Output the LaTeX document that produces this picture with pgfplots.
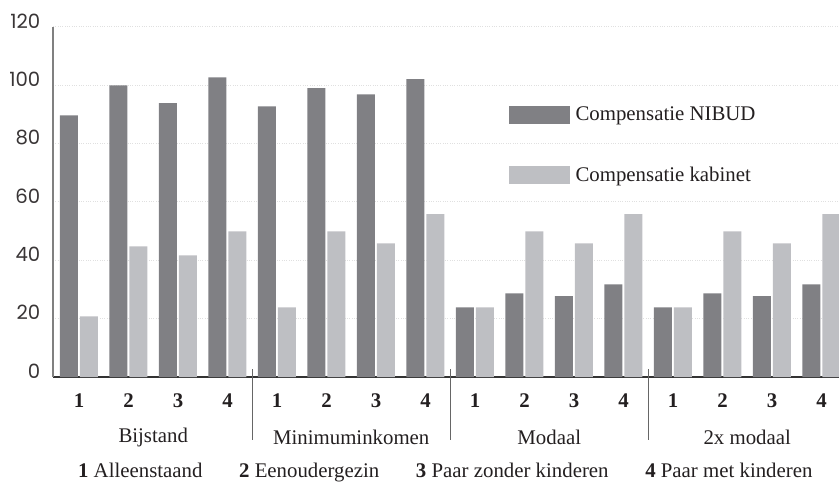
\documentclass[border=0pt]{standalone}
\usepackage{fontspec}
\setmainfont{Liberation Serif}
\newfontfamily\poppins{Poppins}
\usepackage{pgfplots}
\pgfplotsset{compat=1.18}
\definecolor{darkbar}{RGB}{128,128,132}
\definecolor{lightbar}{RGB}{190,191,195}
\definecolor{txt}{RGB}{35,31,32}
\pgfplotstableread{
x  nibud kabinet
0  89.7  20.8
1  100.0 44.8
2  93.9  41.7
3  102.7 49.9
4  92.8  23.9
5  99.0  49.9
6  96.9  45.8
7  102.1 55.8
8  23.9  23.9
9  28.7  49.9
10 27.7  45.8
11 31.8  55.8
12 23.9  23.9
13 28.7  49.9
14 27.7  45.8
15 31.8  55.8
}\datatable
\begin{document}
\fontsize{12pt}{14pt}\selectfont
\begin{tikzpicture}[x=1pt,y=1pt]
\begin{axis}[
  at={(0,0)}, anchor=south west,
  scale only axis, width=471.6pt, height=210pt,
  xmin=-0.525, xmax=15.354, ymin=0, ymax=120,
  clip=false,
  axis x line=bottom, axis y line=left,
  axis line style={-},
  x axis line style={black!80, line width=0.8pt},
  y axis line style={black!50, line width=0.8pt},
  ytick={0,20,...,120},
  xtick={0,...,15},
  xticklabels={1,2,3,4,1,2,3,4,1,2,3,4,1,2,3,4},
  major tick length=0pt,
  ymajorgrids,
  grid style={densely dotted, black!12, line width=0.6pt},
  /pgf/number format/assume math mode=true,
  yticklabel style={font=\poppins\fontsize{11.8pt}{13pt}\selectfont, text=txt!90, xshift=-3.4pt, yshift=3.6pt},
  xticklabel style={font=\bfseries\fontsize{12.5pt}{14pt}\selectfont, text=txt, yshift=-6pt},
  legend style={at={(rel axis cs:0.573,0.800)}, anchor=north west, draw=none, fill=none,
    font=\fontsize{12.5pt}{14pt}\selectfont, text=txt, row sep=19pt,
    nodes={inner sep=3.5pt}},
  legend cell align=left,
]
\addplot[ybar, bar width=10.8pt, bar shift=-6pt, fill=darkbar, draw=none,
  legend image code/.code={\fill[darkbar] (0pt,-5.4pt) rectangle (36.6pt,5.4pt);}]
  table[x=x, y=nibud] {\datatable};
\addlegendentry{Compensatie NIBUD}
\addplot[ybar, bar width=10.8pt, bar shift=6pt, fill=lightbar, draw=none,
  legend image code/.code={\fill[lightbar] (0pt,-5.4pt) rectangle (36.6pt,5.4pt);}]
  table[x=x, y=kabinet] {\datatable};
\addlegendentry{Compensatie kabinet}
\draw[black!60, line width=0.6pt] (axis cs:3.5,2.7) -- (axis cs:3.5,-21.6);
\draw[black!60, line width=0.6pt] (axis cs:7.5,2.7) -- (axis cs:7.5,-21.6);
\draw[black!60, line width=0.6pt] (axis cs:11.5,2.7) -- (axis cs:11.5,-21.6);
\node[text=txt, font=\fontsize{12.5pt}{14pt}\selectfont] at (axis cs:1.5,-20.8) {Bijstand};
\node[text=txt, font=\fontsize{12.5pt}{14pt}\selectfont] at (axis cs:5.5,-20.8) {Minimuminkomen};
\node[text=txt, font=\fontsize{12.5pt}{14pt}\selectfont] at (axis cs:9.5,-20.8) {Modaal};
\node[text=txt, font=\fontsize{12.5pt}{14pt}\selectfont] at (axis cs:13.5,-20.8) {2x modaal};
\node[text=txt, font=\fontsize{12.5pt}{14pt}\selectfont] at (axis cs:7.4,-32.7) {\textbf{1} Alleenstaand\hspace{22pt}\textbf{2} Eenoudergezin\hspace{22pt}\textbf{3} Paar zonder kinderen\hspace{22pt}\textbf{4} Paar met kinderen};
\end{axis}
\pgfresetboundingbox
\path (-31.8pt,-63pt) rectangle (471.6pt,226.2pt);
\end{tikzpicture}
\end{document}
